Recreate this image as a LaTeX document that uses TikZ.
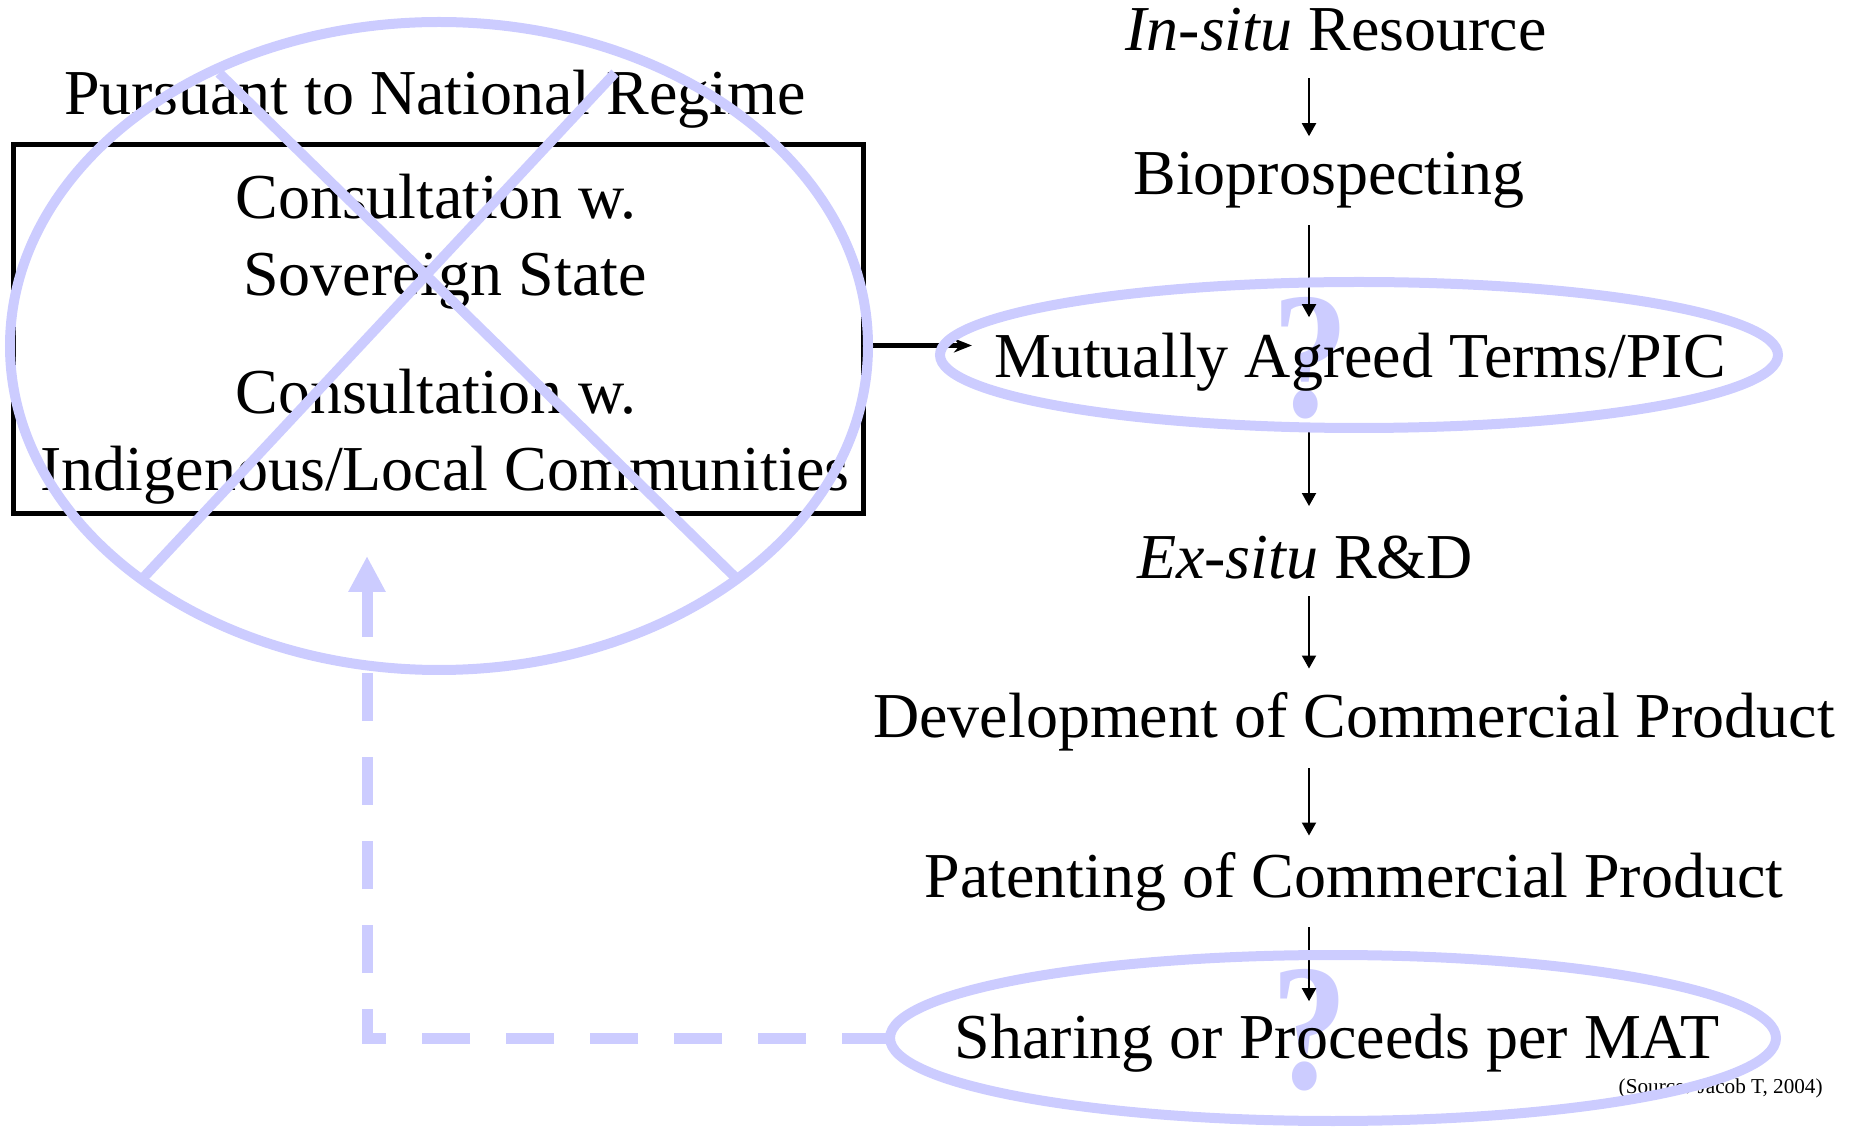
\documentclass[tikz,border=0pt]{standalone}
\usepackage{fontspec}
\setmainfont{Liberation Serif}
\usetikzlibrary{arrows.meta}
\definecolor{lavender}{RGB}{204,204,255}

\begin{document}
\begin{tikzpicture}[x=0.5pt,y=-0.5pt]

\tikzset{lbl/.style = {font=\fontsize{32}{38.5}\selectfont, anchor=base, inner xsep=6pt, inner ysep=8pt},
         flow/.style = {line width=1pt, -{Triangle[length=6.5pt,width=7pt]}},
         link/.style = {line width=2.5pt, -{Stealth[length=9pt,width=7pt]}},
         frame/.style = {draw, line width=2.5pt, minimum width=425pt, minimum height=184.5pt, inner sep=0pt},
         ring/.style = {draw=lavender, line width=5pt},
         query/.style = {text=lavender, font=\fontsize{90}{90}\selectfont\bfseries, anchor=base, inner sep=0pt},
         back/.style = {lavender, line width=5.5pt, dash pattern=on 24pt off 18pt,
                        -{Triangle[length=18pt,width=17.5pt]}}}

\useasboundingbox (0,0) rectangle (1854,1133);

\coordinate (col) at (1309,0);

% big question marks, under the text
\node[query] (q1) at (1311,417) {\scalebox{0.85}[1]{?}};
\node[query] (q2) at (1310,1088) {\scalebox{0.85}[1]{?}};

% right column
\node[lbl] (insitu) at (1336,51)  {\textit{In-situ} Resource};
\node[lbl] (bio)    at (1329,195) {Bioprospecting};
\node[lbl] (mat)    at (1360,378) {Mutually Agreed Terms/PIC};
\node[lbl] (exsitu) at (1305,579) {\textit{Ex-situ} R\&D};
\node[lbl] (dev)    at (1354,738) {Development of Commercial Product};
\node[lbl] (pat)    at (1354,897) {Patenting of Commercial Product};
\node[lbl] (share)  at (1337,1058) {Sharing or Proceeds per MAT};

% left box
\node[lbl] (regime) at (435,115) {Pursuant to National Regime};
\node[frame] (box) at (438,329.5) {};
\node[lbl] (cons1) at (436,219) {Consultation w.};
\node[lbl] (sov)   at (445,296) {Sovereign State};
\node[lbl] (cons2) at (436,414) {Consultation w.};
\node[lbl] (ind)   at (445,491) {Indigenous/Local Communities};

\node[font=\fontsize{10.6}{12}\selectfont, anchor=base east, inner sep=0pt] (src) at (1823,1093) {(Source: Jacob T, 2004)};

\draw[flow, shorten <=5pt] (insitu.south -| col) -- (bio.north -| col);
\draw[flow] (bio.south -| col) -- (mat.north -| col);
\draw[flow, shorten <=12pt, shorten >=7pt] (mat.south -| col) -- (exsitu.north -| col);
\draw[flow, shorten >=4pt] (exsitu.south -| col) -- (dev.north -| col);
\draw[flow] (dev.south -| col) -- (pat.north -| col);
\draw[flow, shorten >=-2pt] (pat.south -| col) -- (share.north -| col);

\draw[link, shorten >=5pt] ([yshift=-8pt]box.east) -- ([yshift=-8pt]box.east -| mat.west);

% crossing out and circling
\draw[ring] (439,346) ellipse [x radius=429, y radius=324];
\draw[ring] (219,73) -- (735,577);
\draw[ring] (615,73) -- (144,577);
\draw[ring] (1359,355) ellipse [x radius=419, y radius=73];
\draw[ring] (1333,1038) ellipse [x radius=443, y radius=83];

\coordinate (shareL) at (890,1038);
\coordinate (tip) at (367,556);
\draw[back] (shareL) -| (tip);

\end{tikzpicture}
\end{document}
